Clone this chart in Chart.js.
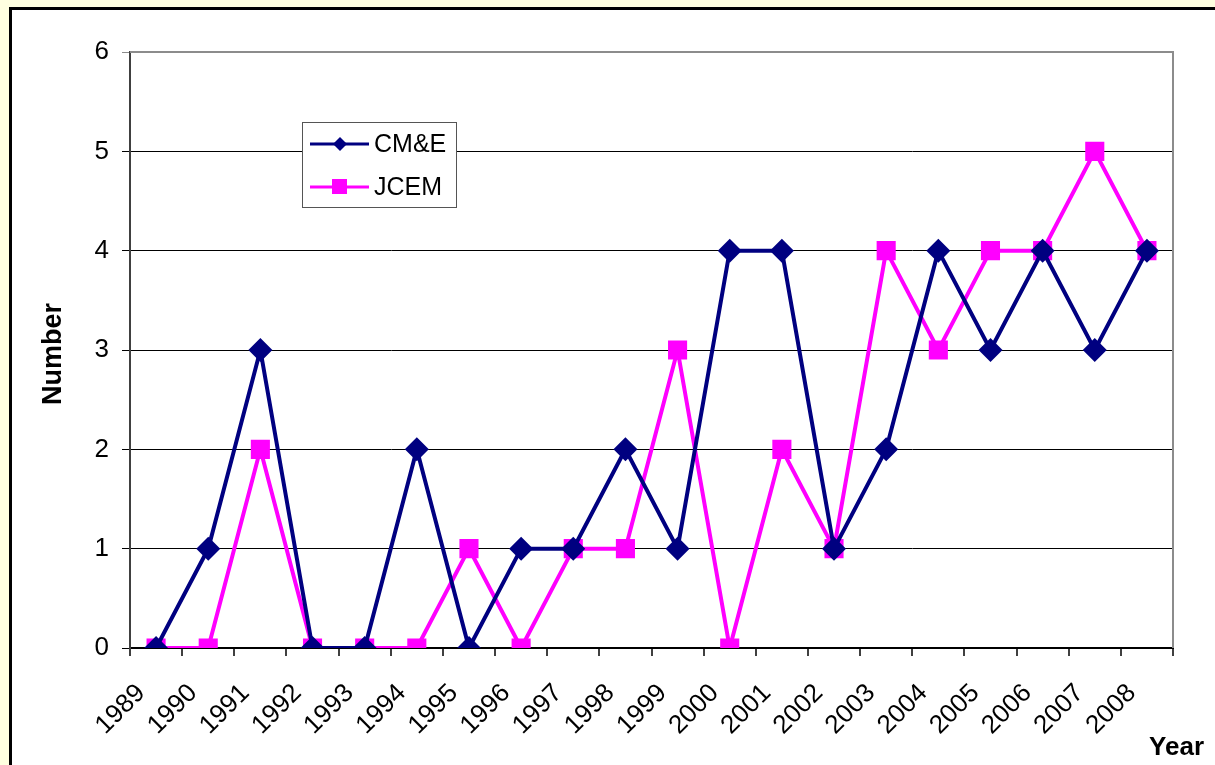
<!DOCTYPE html>
<html>
<head>
<meta charset="utf-8">
<script src="https://cdn.jsdelivr.net/npm/chart.js@4.4.0/dist/chart.umd.min.js"></script>
<style>
  html, body { margin: 0; padding: 0; background: #FFFFE0; }
  #wrap { width: 1215px; height: 765px; position: relative; }
</style>
</head>
<body>
<div id="wrap"><canvas id="myChart" width="1215" height="765"></canvas></div>
<script>
// datos
const years = ["1989", "1990", "1991", "1992", "1993", "1994", "1995", "1996", "1997", "1998",
               "1999", "2000", "2001", "2002", "2003", "2004", "2005", "2006", "2007", "2008"];
const cmeValues = [0, 1, 3, 0, 0, 2, 0, 1, 1, 2, 1, 4, 4, 1, 2, 4, 3, 4, 3, 4];
const jcemValues = [0, 0, 2, 0, 0, 0, 1, 0, 1, 1, 3, 0, 2, 1, 4, 3, 4, 4, 5, 4];
const yTicks = [0, 1, 2, 3, 4, 5, 6];

const fontFam = "'Liberation Sans', Arial, sans-serif";

// fondo amarillo, marco negro, titulos y leyenda
const marco = {
    id: 'marco',
    beforeDraw(chart) {
        const ctx = chart.ctx;
        ctx.save();
        ctx.fillStyle = '#FFFFE0';
        ctx.fillRect(0, 0, chart.width, chart.height);
        ctx.fillStyle = '#FFFFFF';
        ctx.fillRect(10, 8, chart.width, chart.height);
        ctx.strokeStyle = '#000000';
        ctx.lineWidth = 3;
        ctx.beginPath();
        ctx.moveTo(10.5, chart.height + 5);
        ctx.lineTo(10.5, 8.5);
        ctx.lineTo(chart.width + 5, 8.5);
        ctx.stroke();
        ctx.restore();
    },
    afterDraw(chart) {
        const ctx = chart.ctx;
        const a = chart.chartArea;
        ctx.save();
        // borde gris del area de trazado
        ctx.strokeStyle = '#8C8C8C';
        ctx.lineWidth = 2;
        ctx.beginPath();
        ctx.moveTo(a.left, a.top);
        ctx.lineTo(a.right, a.top);
        ctx.lineTo(a.right, a.bottom);
        ctx.stroke();

        // titulos
        ctx.fillStyle = '#000000';
        ctx.font = "bold 26px " + fontFam;
        ctx.textAlign = 'right';
        ctx.textBaseline = 'alphabetic';
        ctx.fillText('Year', 1204, 755);
        ctx.font = "bold 27px " + fontFam;
        ctx.translate(61, 354);
        ctx.rotate(-Math.PI / 2);
        ctx.textAlign = 'center';
        ctx.fillText('Number', 0, 0);
        ctx.restore();

        // leyenda
        ctx.save();
        const lx = 302, ly = 122, lw = 154, lh = 85;
        ctx.fillStyle = '#FFFFFF';
        ctx.fillRect(lx, ly, lw, lh);
        ctx.strokeStyle = '#555555';
        ctx.lineWidth = 1;
        ctx.strokeRect(lx + 0.5, ly + 0.5, lw, lh);
        ctx.font = "25px " + fontFam;
        ctx.textAlign = 'left';
        ctx.textBaseline = 'middle';
        chart.data.datasets.forEach((ds, i) => {
            const y = ly + 22 + i * 43;
            ctx.strokeStyle = ds.borderColor;
            ctx.lineWidth = 3;
            ctx.beginPath();
            ctx.moveTo(310, y);
            ctx.lineTo(369, y);
            ctx.stroke();
            ctx.fillStyle = ds.borderColor;
            if (ds.pointStyle === 'rectRot') {
                ctx.beginPath();
                ctx.moveTo(340, y - 7);
                ctx.lineTo(347, y);
                ctx.lineTo(340, y + 7);
                ctx.lineTo(333, y);
                ctx.closePath();
                ctx.fill();
            } else {
                ctx.fillRect(332, y - 8, 15, 15);
            }
            ctx.fillStyle = '#000000';
            ctx.fillText(ds.label, 374, y + 1);
        });
        ctx.restore();
    }
};

const data = {
    labels: years,
    datasets: [{
        label: 'CM&E',
        data: cmeValues,
        borderColor: '#000080',
        backgroundColor: '#000080',
        borderWidth: 4,
        pointStyle: 'rectRot',
        pointRadius: 12,
        pointBorderWidth: 0,
        tension: 0
    }, {
        label: 'JCEM',
        data: jcemValues,
        borderColor: '#FF00FF',
        backgroundColor: '#FF00FF',
        borderWidth: 4,
        pointStyle: 'rect',
        pointRadius: 13.5,
        pointBorderWidth: 0,
        tension: 0
    }]
};

const options = {
    responsive: false,
    animation: false,
    layout: { padding: { top: 52, right: 42, left: 0, bottom: 0 } },
    plugins: {
        legend: { display: false },
        tooltip: { enabled: false }
    },
    scales: {
        x: {
            offset: true,
            grid: {
                offset: true,
                drawOnChartArea: false,
                drawTicks: true,
                tickLength: 8,
                color: '#404040',
                lineWidth: 2
            },
            border: { color: '#000000', width: 2 },
            ticks: {
                color: '#000000',
                font: { family: fontFam, size: 26 },
                maxRotation: 45,
                minRotation: 45,
                autoSkip: false,
                padding: 22,
                labelOffset: -15
            },
            afterFit(scale) { scale.height = 117; }
        },
        y: {
            min: 0,
            max: 6,
            afterBuildTicks(scale) { scale.ticks = yTicks.map(v => ({ value: v })); },
            grid: {
                color: (c) => c.tick && c.tick.value === 6 ? '#8C8C8C' : '#000000',
                lineWidth: 1,
                tickLength: 8
            },
            border: { color: '#404040', width: 2 },
            ticks: {
                color: '#000000',
                font: { family: fontFam, size: 26 },
                padding: 13
            },
            afterFit(scale) { scale.width = 130; }
        }
    }
};

new Chart("myChart", { type: "line", data: data, options: options, plugins: [marco] });
</script>
</body>
</html>
